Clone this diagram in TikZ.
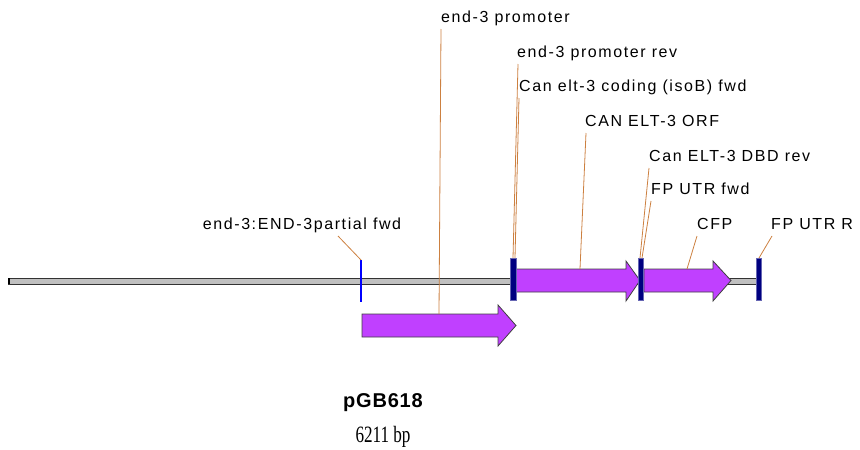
\documentclass[tikz,border=0pt]{standalone}
\usepackage{fontspec}
\setmainfont{Liberation Sans}[LetterSpace=10]
\newfontfamily\titlefont{Liberation Sans}[LetterSpace=4]
\newfontfamily\bpfont{Liberation Serif}
\usepackage{tikz}
\usetikzlibrary{calc}
\definecolor{featpurple}{RGB}{192,64,255}
\definecolor{sitenavy}{RGB}{0,0,128}
\definecolor{leadorange}{RGB}{204,128,64}
\definecolor{bbgray}{RGB}{192,192,192}

\begin{document}
\begin{tikzpicture}[x=1pt,y=-1pt,
  lbl/.style={anchor=south west, inner sep=0pt, text depth=6pt, font=\fontsize{16}{18}\selectfont},
  leader/.style={draw=leadorange, line width=0.8pt},
  feat/.style={fill=featpurple, draw=black!75, line width=0.8pt},
  site/.style={fill=sitenavy, draw=sitenavy!60!white, line width=0.5pt}]
\useasboundingbox (0,0) rectangle (860,450);

\draw[fill=bbgray, draw=black!80, line width=0.8pt] (8,278) rectangle (761,284);
\fill[black] (8,278) rectangle (10,284);

\draw[feat] (362,314) -- (498,314) -- (498,305) -- (516,325.5) -- (498,346) -- (498,337) -- (362,337) -- cycle;
\draw[feat] (515,269) -- (626,269) -- (626,261) -- (640,280.5) -- (626,301) -- (626,292) -- (515,292) -- cycle;
\draw[feat] (644,269) -- (713,269) -- (713,261) -- (731,280.5) -- (713,301) -- (713,292) -- (644,292) -- cycle;

\draw[site] (510,258) rectangle (516,300);
\draw[site] (638,258) rectangle (643,300);
\draw[site] (756,258) rectangle (761,300);
\draw[draw={rgb,255:red,0;green,0;blue,255}, line width=1.2pt] (361,260) -- (361,302);

\node[lbl] (prom) at (441,29) {end-3 promoter};
\node[lbl] (promrev) at (517,64) {end-3 promoter rev};
\node[lbl] (coding) at (519,98) {Can elt-3 coding (isoB) fwd};
\node[lbl] (orf) at (585,133) {CAN ELT-3 ORF};
\node[lbl] (dbd) at (649,168) {Can ELT-3 DBD rev};
\node[lbl] (utrf) at (651,201) {FP UTR fwd};
\node[lbl] (cfp) at (697,236) {CFP};
\node[lbl] (utrr) at (771,236) {FP UTR R};
\node[lbl, anchor=south] (partial) at (302,236) {end-3:END-3partial fwd};

\coordinate (promend) at (439,314);
\coordinate (promrevend) at (513,258);
\coordinate (codingend) at (515,258);
\coordinate (orfend) at (580,269);
\coordinate (dbdend) at (640,258);
\coordinate (utrfend) at (642,258);
\coordinate (cfpend) at (687,269);
\coordinate (utrrend) at (759,258);
\coordinate (partialend) at (361,260);

\draw[leader] (prom.south west) -- (promend);
\draw[leader] ([xshift=1pt]promrev.south west) -- (promrevend);
\draw[leader] (coding.south west) -- (codingend);
\draw[leader] ([xshift=1pt]orf.south west) -- (orfend);
\draw[leader] (dbd.south west) -- (dbdend);
\draw[leader] (utrf.south west) -- (utrfend);
\draw[leader] (cfp.south west) -- (cfpend);
\draw[leader] ([xshift=1pt]utrr.south west) -- (utrrend);
\draw[leader] ([xshift=36pt]partial.south) -- (partialend);

\node[font=\titlefont\fontsize{20}{22}\selectfont\bfseries] (name) at (383,403) {pGB618};
\node[font=\bpfont\fontsize{18}{20}\selectfont] (size) at (383,437) {\scalebox{0.95}[1.3]{6211 bp}};
\end{tikzpicture}
\end{document}
